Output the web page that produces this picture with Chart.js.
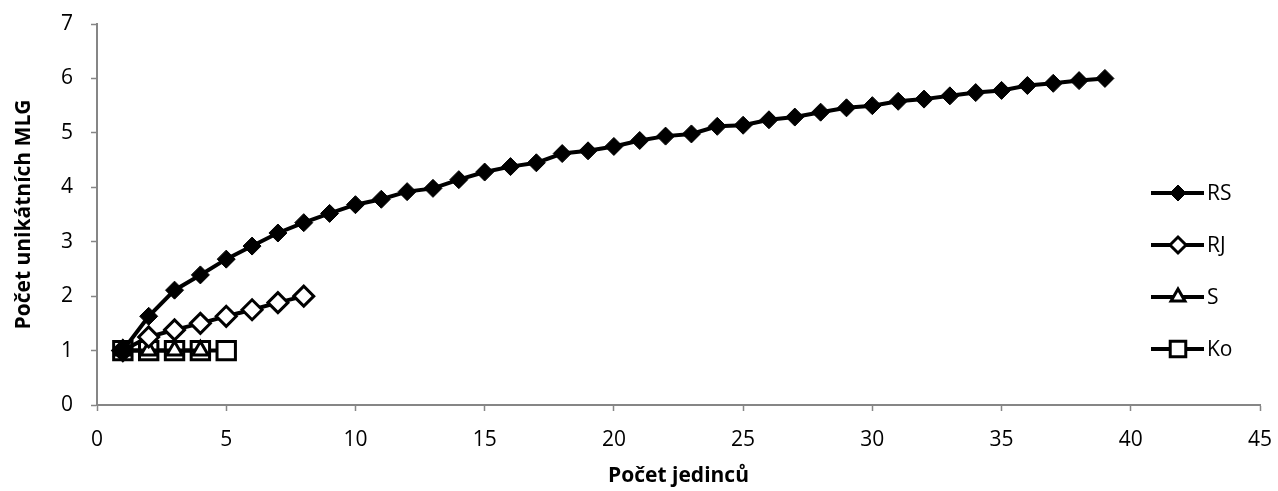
<!DOCTYPE html>
<html>
<head>
<meta charset="utf-8">
<script src="https://cdn.jsdelivr.net/npm/chart.js@4.4.1/dist/chart.umd.min.js"></script>
<style>
  html, body { margin: 0; padding: 0; background: #fff; }
  #wrap { width: 1278px; height: 491px; }
</style>
</head>
<body>
<div id="wrap"><canvas id="myChart" width="1278" height="491"></canvas></div>
<script>
// Rarefaction curves: number of unique MLGs vs. number of individuals

const rsN = [1, 2, 3, 4, 5, 6, 7, 8, 9, 10, 11, 12, 13, 14, 15, 16, 17, 18, 19, 20,
             21, 22, 23, 24, 25, 26, 27, 28, 29, 30, 31, 32, 33, 34, 35, 36, 37, 38, 39];
const rsMLG = [1.00, 1.63, 2.11, 2.39, 2.68, 2.92, 3.16, 3.35, 3.52, 3.68, 3.78, 3.92, 3.98,
               4.14, 4.28, 4.38, 4.45, 4.62, 4.67, 4.75, 4.86, 4.94, 4.98, 5.12, 5.14, 5.24,
               5.29, 5.38, 5.46, 5.50, 5.58, 5.62, 5.68, 5.74, 5.78, 5.87, 5.91, 5.96, 6.00];

const rjN = [1, 2, 3, 4, 5, 6, 7, 8];
const rjMLG = [1.00, 1.25, 1.38, 1.50, 1.63, 1.75, 1.88, 2.00];

const sN = [1, 2, 3, 4];
const sMLG = [1, 1, 1, 1];

const koN = [1, 2, 3, 4, 5];
const koMLG = [1, 1, 1, 1, 1];

const seriesNames = ['RS', 'RJ', 'S', 'Ko'];

const FONT = '"Open Sans", Lato, sans-serif';
const AXIS_GREY = '#868686';

function toPoints(xs, ys) {
    return xs.map((x, i) => ({ x: x, y: ys[i] }));
}

// marker look for each series, shared by the plot and the legend
const markers = [
    { pointStyle: 'rectRot', radius: 9, bg: '#000', bw: 1, legendRadius: 8 },
    { pointStyle: 'rectRot', radius: 10, bg: '#fff', bw: 3, legendRadius: 8 },
    { pointStyle: 'triangle', radius: 9, bg: '#fff', bw: 3, legendRadius: 8 },
    { pointStyle: 'rect', radius: 13, bg: '#fff', bw: 3, legendRadius: 11 }
];

// legend drawn over the plot area on the right, line + marker + name
const lineLegend = {
    id: 'lineLegend',
    afterDraw(chart) {
        const ctx = chart.ctx;
        const rows = [193, 245, 297, 349];
        ctx.save();
        seriesNames.forEach((name, i) => {
            const y = rows[i];
            ctx.strokeStyle = '#000';
            ctx.lineWidth = 4;
            ctx.beginPath();
            ctx.moveTo(1151, y);
            ctx.lineTo(1204, y);
            ctx.stroke();
            const m = markers[i];
            ctx.fillStyle = m.bg;
            ctx.strokeStyle = '#000';
            ctx.lineWidth = m.bw;
            Chart.helpers.drawPoint(ctx, {
                pointStyle: m.pointStyle,
                radius: m.legendRadius,
                rotation: 0,
                borderWidth: m.bw
            }, 1178, y);
            ctx.fillStyle = '#000';
            ctx.font = '21px ' + FONT;
            ctx.textBaseline = 'middle';
            ctx.textAlign = 'left';
            ctx.fillText(name, 1207, y + 1);
        });
        ctx.restore();
    }
};

function makeDataset(label, pts, i) {
    const m = markers[i];
    return {
        label: label,
        data: pts,
        borderColor: '#000',
        borderWidth: 4,
        pointStyle: m.pointStyle,
        pointRadius: m.radius,
        pointBackgroundColor: m.bg,
        pointBorderColor: '#000',
        pointBorderWidth: m.bw,
        pointHoverRadius: m.radius,
        order: i + 1,
        tension: 0
    };
}

const ctx = document.getElementById('myChart');
const myChart = new Chart(ctx, {
    type: 'line',
    data: {
        datasets: [
            makeDataset('RS', toPoints(rsN, rsMLG), 0),
            makeDataset('RJ', toPoints(rjN, rjMLG), 1),
            makeDataset('S', toPoints(sN, sMLG), 2),
            makeDataset('Ko', toPoints(koN, koMLG), 3)
        ]
    },
    options: {
        responsive: false,
        animation: false,
        layout: {
            padding: { top: 24, right: 18, left: 0, bottom: 0 }
        },
        scales: {
            x: {
                type: 'linear',
                min: 0,
                max: 45,
                ticks: {
                    stepSize: 5,
                    color: '#000',
                    padding: 16,
                    font: { family: FONT, size: 21 }
                },
                grid: {
                    drawOnChartArea: false,
                    drawTicks: true,
                    tickLength: 6,
                    tickColor: AXIS_GREY,
                    tickWidth: 1.5
                },
                border: { color: AXIS_GREY, width: 2 },
                title: {
                    display: true,
                    text: 'Počet jedinců',
                    color: '#000',
                    font: { family: FONT, size: 21, weight: 'bold' },
                    padding: { top: 0, bottom: 2 }
                },
                afterFit(scale) {
                    scale.height = 86;
                    // plot right edge comes from the layout padding only
                    scale.paddingLeft = 0;
                    scale.paddingRight = 0;
                }
            },
            y: {
                min: 0,
                max: 7,
                ticks: {
                    stepSize: 1,
                    color: '#000',
                    padding: 18,
                    font: { family: FONT, size: 21 }
                },
                grid: {
                    drawOnChartArea: false,
                    drawTicks: true,
                    tickLength: 6,
                    tickColor: AXIS_GREY,
                    tickWidth: 1.5
                },
                border: { color: AXIS_GREY, width: 2 },
                title: {
                    display: true,
                    text: 'Počet unikátních MLG',
                    color: '#000',
                    font: { family: FONT, size: 21, weight: 'bold' },
                    padding: { top: 11, bottom: 0 }
                },
                afterFit(scale) {
                    scale.width = 97;
                    // plot top comes from the layout padding only
                    scale.paddingTop = 0;
                    scale.paddingBottom = 0;
                }
            }
        },
        plugins: {
            legend: { display: false },
            tooltip: { enabled: false }
        }
    },
    plugins: [lineLegend]
});
</script>
</body>
</html>
